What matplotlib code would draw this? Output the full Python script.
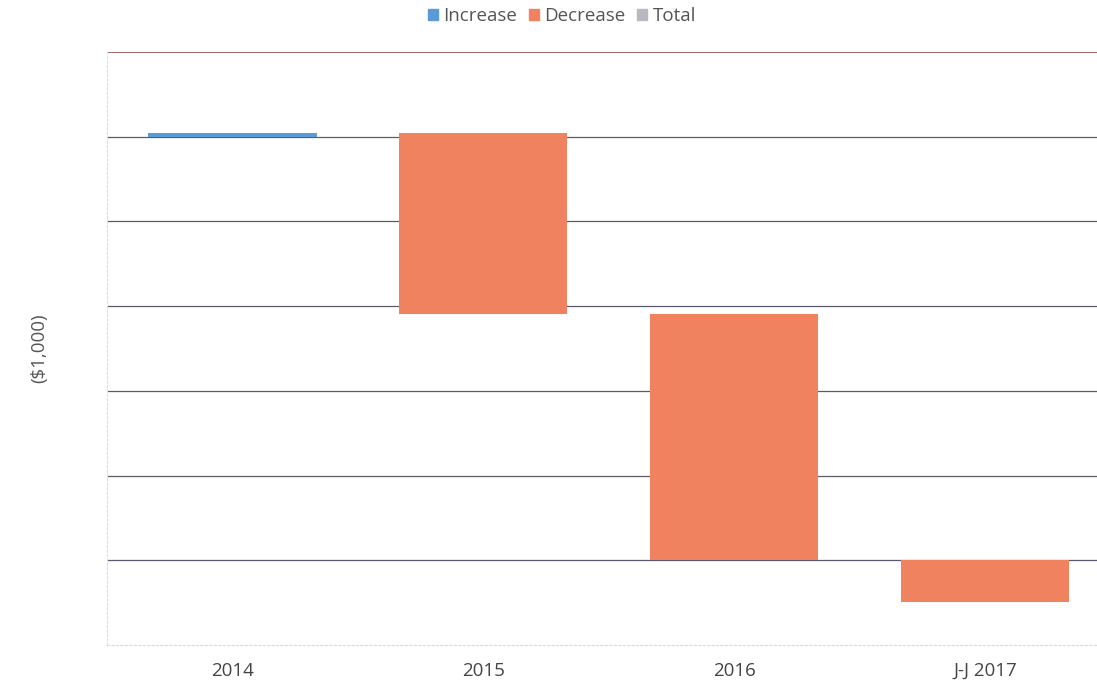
import numpy as np
import matplotlib.pyplot as plt
from matplotlib.patches import Patch

plt.rcParams['font.family'] = ['Open Sans', 'DejaVu Sans']

# waterfall data, in grid units of ($1,000)
categories = ["2014", "2015", "2016", "J-J 2017"]
start_level = 6.0
changes = [0.04, -2.13, -2.91, -0.49]
kinds = ["Increase", "Decrease", "Decrease", "Decrease"]

colors = {"Increase": "#5b9bd5", "Decrease": "#f0825f", "Total": "#b8b8c4"}

levels = start_level + np.cumsum(changes)
bottoms = np.concatenate([[start_level], levels[:-1]])

fig = plt.figure(figsize=(10.97, 6.82), dpi=100)
ax = fig.add_axes([107 / 1097, 37 / 682, 1 - 107 / 1097, 593 / 682])

x = np.arange(len(categories))
for i in range(len(categories)):
    ax.bar(x[i], changes[i], bottom=bottoms[i], width=0.67,
           color=colors[kinds[i]], zorder=3)

ax.set_xlim(-0.5, 3.445)
ax.set_ylim(0, 7)

# horizontal gridlines, the top one is a bit reddish
for y in range(1, 7):
    ax.axhline(y, color="#5a5a6e", lw=0.9, zorder=1)
ax.axhline(7, color="#8c5050", lw=1.2, zorder=1)

ax.set_xticks(x)
ax.set_xticklabels(categories, fontsize=13.5, color="#444444")
ax.set_yticks([])
ax.tick_params(axis="x", length=0, pad=12)

for s in ["top", "right"]:
    ax.spines[s].set_visible(False)
ax.spines["left"].set_color("#e4dcd4")
ax.spines["left"].set_linestyle((0, (2, 2)))
ax.spines["bottom"].set_color("#f2d4b8")
ax.spines["bottom"].set_linestyle((0, (2, 2)))

ax.set_ylabel("($1,000)", fontsize=13.5, color="#555555", labelpad=42)

handles = [Patch(color=colors[k]) for k in ["Increase", "Decrease", "Total"]]
fig.legend(handles, ["Increase", "Decrease", "Total"], loc="center",
           bbox_to_anchor=(562 / 1097, 1 - 16 / 682), ncol=3, frameon=False,
           fontsize=13.5, handlelength=0.55, handleheight=0.55,
           handletextpad=0.3, columnspacing=0.6, labelcolor="#555555")

fig.savefig("out.png", dpi=100)
